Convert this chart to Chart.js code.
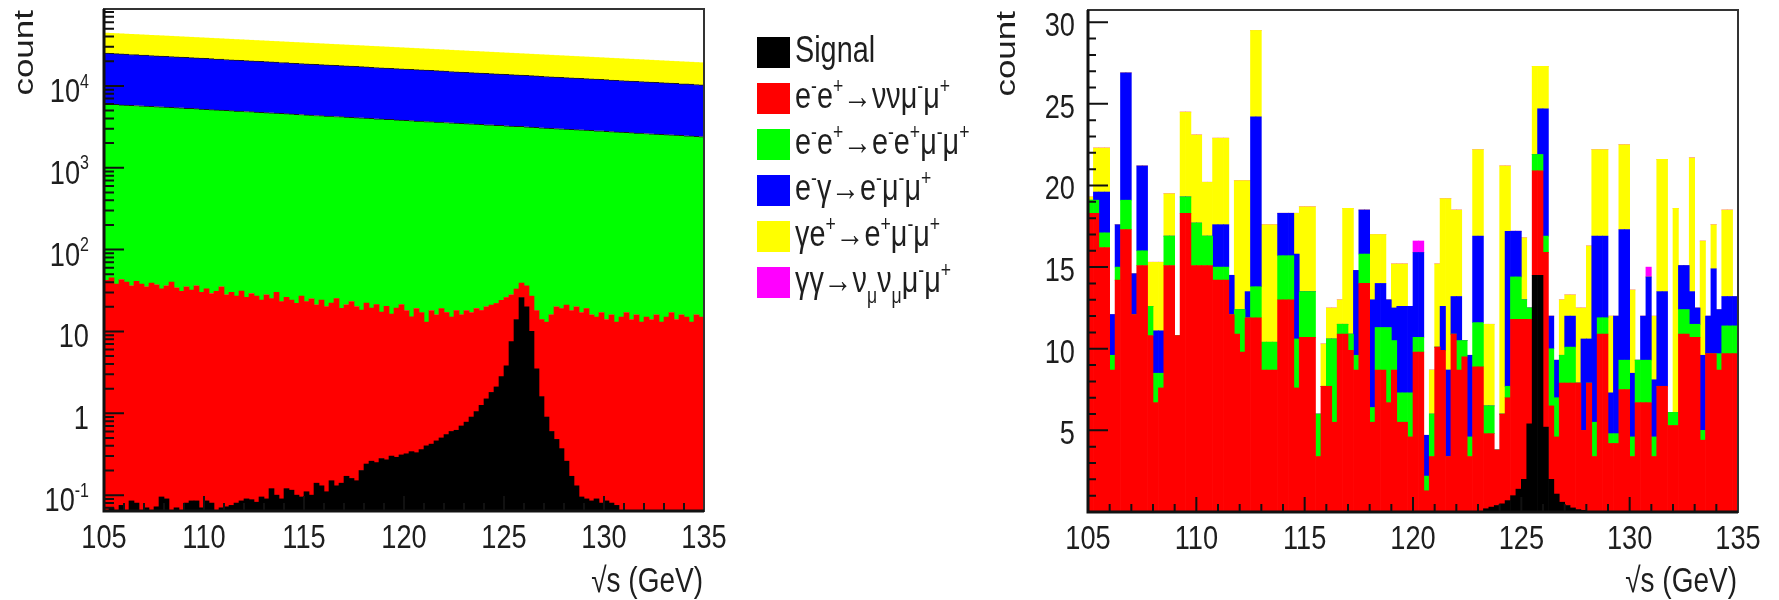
<!DOCTYPE html>
<html>
<head>
<meta charset="utf-8">
<script src="https://cdn.jsdelivr.net/npm/chart.js@4.4.1/dist/chart.umd.min.js"></script>
<style>
  body { margin: 0; background: #fff; }
  #wrap { position: relative; width: 1779px; height: 600px; }
  canvas { position: absolute; top: 0; }
</style>
</head>
<body>
<div id="wrap">
  <canvas id="left" width="1000" height="600" style="left:0"></canvas>
  <canvas id="right" width="799" height="600" style="left:980px"></canvas>
</div>
<script>
// binning: 0.25 GeV bins from 105 to 135
const binLow = 105, binWidth = 0.25, nBins = 120;
const binCenters = Array.from({length: nBins}, (_, i) => binLow + binWidth * (i + 0.5));

const xTickValues = [105, 110, 115, 120, 125, 130, 135];
const xTitle = '√s (GeV)';
const yTitle = 'count';
const logTickValues = [0.1, 1, 10, 100, 1000, 10000];
const logTickLabels = ['10^{-1}', '1', '10', '10^{2}', '10^{3}', '10^{4}'];
const linTickValues = [5, 10, 15, 20, 25, 30];

const legendNames = [
  'Signal',
  'e^{-}e^{+}→ννμ^{-}μ^{+}',
  'e^{-}e^{+}→e^{-}e^{+}μ^{-}μ^{+}',
  'e^{-}γ→e^{-}μ^{-}μ^{+}',
  'γe^{+}→e^{+}μ^{-}μ^{+}',
  'γγ→ν_{μ}ν_{μ}μ^{-}μ^{+}'
];
const seriesColors = ['#000000', '#ff0000', '#00ff00', '#0000ff', '#ffff00', '#ff00ff'];

// left panel (log scale)
const leftSignal = [
  0, 0.07, 0, 0.075, 0, 0.085, 0.08, 0, 0.07, 0,
  0.072, 0.095, 0.09, 0, 0.07, 0, 0.08, 0.085, 0.085, 0.07,
  0.085, 0.08, 0, 0.07, 0.072, 0.075, 0.08, 0.085, 0.09, 0.088,
  0.082, 0.095, 0.09, 0.12, 0.1, 0.09, 0.12, 0.115, 0.1, 0.095,
  0.11, 0.1, 0.14, 0.13, 0.11, 0.15, 0.13, 0.14, 0.17, 0.16,
  0.15, 0.2, 0.24, 0.26, 0.25, 0.28, 0.27, 0.3, 0.29, 0.31,
  0.32, 0.34, 0.33, 0.36, 0.4, 0.42, 0.46, 0.5, 0.55, 0.6,
  0.62, 0.7, 0.78, 0.9, 1.05, 1.25, 1.5, 1.8, 2.1, 2.8,
  3.8, 7.5, 14, 26, 20, 10, 3.5, 1.6, 0.9, 0.6,
  0.48, 0.37, 0.26, 0.17, 0.13, 0.095, 0.09, 0.085, 0.09, 0.08,
  0.085, 0.08, 0.075, 0, 0, 0, 0, 0, 0, 0,
  0, 0, 0, 0, 0, 0, 0, 0, 0, 0
];
const leftRed = [
  42, 45, 38, 43, 40, 36, 41, 38, 35, 39,
  37, 33, 36, 40, 34, 31, 35, 32, 36, 30,
  33, 29, 31, 35, 28, 30, 27, 31, 26, 29,
  27, 24, 28, 25, 30, 23, 26, 24, 22, 27,
  23, 25, 21, 24, 20, 22, 25, 19, 21, 23,
  20, 18, 22, 19, 21, 17, 20, 16, 19, 21,
  17.7, 14.7, 18.7, 16.6, 12.6, 17.6, 15.5, 18.5, 16.5, 14.4,
  17.4, 15.3, 17.2, 16.1, 18, 16.8, 18.5, 19.2, 19.9, 21.2,
  22.2, 20.5, 19, 13, 16, 17, 14.5, 12.4, 12.1, 15.4,
  19.5, 18.6, 20.7, 17.8, 19.9, 16.9, 18.9, 15.9, 14.9, 16.9,
  13.9, 15.9, 12.9, 15, 17, 14, 16, 13, 15, 14,
  16, 13, 15, 17, 14, 16, 15, 13, 16, 15
];
const leftGreen = [
  5940, 5890, 5905, 5815, 5800, 5745, 5720, 5665, 5650, 5585,
  5545, 5510, 5470, 5440, 5385, 5370, 5300, 5290, 5235, 5195,
  5130, 5100, 5055, 5020, 4985, 4950, 4910, 4880, 4835, 4810,
  4750, 4725, 4680, 4660, 4615, 4590, 4550, 4520, 4480, 4450,
  4400, 4375, 4330, 4305, 4270, 4245, 4200, 4190, 4135, 4115,
  4075, 4050, 4010, 3985, 3950, 3930, 3885, 3875, 3825, 3810,
  3770, 3750, 3710, 3695, 3655, 3640, 3600, 3585, 3550, 3530,
  3490, 3470, 3435, 3420, 3385, 3370, 3335, 3320, 3285, 3265,
  3230, 3210, 3180, 3165, 3135, 3115, 3090, 3070, 3045, 3025,
  2990, 2970, 2945, 2930, 2900, 2885, 2860, 2845, 2815, 2805,
  2770, 2750, 2725, 2710, 2685, 2670, 2645, 2630, 2605, 2590,
  2565, 2545, 2520, 2510, 2485, 2470, 2445, 2435, 2405, 2390
];
const leftBlue = [
  19150, 19020, 18840, 18745, 18560, 18420, 18330, 18140, 18050, 17880,
  17800, 17640, 17530, 17380, 17270, 17090, 16990, 16840, 16745, 16590,
  16520, 16380, 16250, 16140, 15990, 15880, 15760, 15620, 15530, 15390,
  15330, 15190, 15100, 14950, 14860, 14720, 14630, 14500, 14410, 14290,
  14230, 14110, 14010, 13880, 13800, 13670, 13590, 13460, 13390, 13270,
  13210, 13100, 13010, 12890, 12820, 12700, 12630, 12520, 12440, 12340,
  12270, 12170, 12090, 11980, 11910, 11810, 11740, 11630, 11570, 11460,
  11390, 11300, 11230, 11120, 11060, 10960, 10900, 10800, 10740, 10640,
  10580, 10490, 10430, 10330, 10270, 10180, 10130, 10030, 9980, 9890,
  9820, 9740, 9680, 9590, 9540, 9450, 9400, 9320, 9270, 9180,
  9120, 9040, 8990, 8910, 8860, 8780, 8730, 8660, 8610, 8530,
  8470, 8400, 8350, 8270, 8230, 8150, 8110, 8040, 7990, 7920
];
const leftYellow = [
  19040, 18930, 18790, 18700, 18560, 18460, 18330, 18240, 18090, 18000,
  17870, 17780, 17650, 17560, 17440, 17340, 17230, 17140, 17000, 16920,
  16790, 16700, 16590, 16490, 16380, 16290, 16170, 16090, 15970, 15880,
  15750, 15670, 15560, 15470, 15370, 15280, 15170, 15090, 14980, 14900,
  14770, 14700, 14590, 14510, 14410, 14330, 14230, 14150, 14050, 13980,
  13850, 13790, 13680, 13600, 13510, 13440, 13340, 13270, 13170, 13100,
  12990, 12930, 12830, 12750, 12670, 12600, 12500, 12440, 12350, 12270,
  12180, 12120, 12030, 11950, 11880, 11810, 11720, 11660, 11570, 11500,
  11410, 11360, 11270, 11200, 11130, 11070, 10980, 10930, 10840, 10780,
  10700, 10640, 10560, 10500, 10420, 10370, 10290, 10240, 10150, 10100,
  10030, 9970, 9900, 9840, 9760, 9720, 9640, 9590, 9510, 9470,
  9400, 9340, 9270, 9220, 9150, 9100, 9030, 8990, 8910, 8870
];

// right panel (linear scale)
const rightSignal = [
  0, 0, 0, 0, 0, 0, 0, 0, 0, 0,
  0, 0, 0, 0, 0, 0, 0, 0, 0, 0,
  0, 0, 0, 0, 0, 0, 0, 0, 0, 0,
  0, 0, 0, 0, 0, 0, 0, 0, 0, 0,
  0, 0, 0, 0, 0, 0, 0, 0, 0, 0,
  0, 0, 0, 0, 0, 0, 0, 0, 0, 0,
  0, 0, 0, 0, 0, 0, 0, 0, 0, 0,
  0, 0, 0, 0.2, 0.3, 0.4, 0.5, 0.7, 1.0, 1.4,
  2.0, 5.4, 14.5, 14.5, 5.2, 2.0, 1.1, 0.6, 0.4, 0.25,
  0.15, 0.1, 0, 0, 0, 0, 0, 0, 0, 0,
  0, 0, 0, 0, 0, 0, 0, 0, 0, 0,
  0, 0, 0, 0, 0, 0, 0, 0, 0, 0
];
const rightRed = [
  18.3, 18.3, 16.2, 16.2, 8.7, 14.2, 17.3, 17.3, 12.1, 15.1,
  15.1, 10.8, 6.7, 7.6, 15.1, 15.1, 10.8, 18.3, 18.3, 15.1,
  15.1, 15.1, 15.1, 14.2, 14.2, 14.2, 12.1, 10.9, 9.8, 11.9,
  11.9, 11.9, 8.7, 8.7, 8.7, 13.0, 13.0, 13.0, 7.6, 10.7,
  10.7, 10.7, 3.4, 7.7, 7.7, 5.5, 10.9, 10.9, 9.9, 8.7,
  14.0, 14.0, 5.5, 8.7, 8.7, 6.7, 8.7, 5.5, 5.5, 4.6,
  9.8, 9.8, 1.3, 3.4, 10.1, 9.9, 3.4, 10.9, 8.7, 9.5,
  3.4, 8.9, 8.9, 4.6, 4.5, 3.4, 5.5, 6.3, 10.8, 10.4,
  9.8, 6.4, 6.4, 6.4, 10.7, 4.5, 3.5, 7.3, 7.5, 7.65,
  7.75, 4.9, 7.9, 3.4, 10.9, 10.9, 4.2, 4.2, 7.5, 7.5,
  3.4, 6.7, 6.7, 6.7, 3.4, 7.7, 7.7, 5.3, 5.3, 10.9,
  10.9, 10.7, 10.7, 4.4, 9.7, 9.7, 8.7, 9.7, 9.7, 9.7
];
const rightGreen = [
  0.8, 0.8, 0.9, 0.9, 0.9, 0.8, 1.8, 1.8, 0, 0.9,
  0.9, 1.8, 1.8, 0.9, 1.8, 1.8, 0, 1.0, 1.0, 2.6,
  2.6, 1.8, 1.8, 0.8, 0.8, 0.8, 0, 1.5, 2.6, 0,
  1.9, 1.9, 1.7, 1.7, 1.7, 2.7, 2.7, 2.7, 3.0, 2.8,
  2.8, 2.8, 2.6, 0, 2.9, 5.1, 0.6, 0.6, 1.0, 0.9,
  1.8, 1.8, 0.9, 2.6, 2.6, 4.6, 1.8, 1.8, 1.8, 2.7,
  0.9, 0.9, 0.9, 2.6, 0, 0, 0, 0, 1.8, 1.0,
  1.2, 2.7, 2.7, 1.7, 1.7, 0, 0, 0.7, 2.6, 2.6,
  1.2, 0.7, 1.0, 1.0, 1.0, 3.5, 2.4, 1.7, 2.2, 2.2,
  0, 0, 0, 2.1, 1.0, 1.0, 0.6, 0.6, 1.8, 1.8,
  1.2, 2.6, 2.6, 2.6, 1.2, 0, 0, 0.8, 0.8, 1.5,
  1.5, 0.8, 0.8, 0.6, 0, 0, 1.0, 1.7, 1.7, 1.7
];
const rightBlue = [
  0, 0.5, 2.5, 2.5, 2.5, 2.6, 7.8, 7.8, 2.5, 5.2,
  5.2, 0, 2.6, 2.6, 0, 0, 0, 0, 0, 0,
  0, 0, 0, 2.6, 2.6, 2.6, 2.4, 0, 0, 1.6,
  10.4, 10.4, 0, 0, 0, 2.6, 2.6, 2.6, 5.2, 0,
  0, 0, 0, 0, 0, 0, 0, 0, 0, 5.2,
  2.7, 2.7, 6.6, 2.7, 2.7, 1.7, 2.0, 5.3, 5.3, 5.3,
  5.2, 5.2, 2.5, 0, 0, 2.7, 5.3, 2.3, 2.7, 0,
  5.0, 5.3, 5.3, 0, 0, 0, 0, 9.5, 2.8, 2.8,
  0, 0, 0, 2.8, 7.8, 2.0, 2.3, 0, 1.9, 1.9,
  0, 5.6, 2.7, 11.4, 5.0, 5.0, 2.5, 7.2, 8.0, 8.0,
  3.9, 0, 2.7, 5.1, 3.5, 5.8, 5.8, 0, 0, 2.7,
  2.7, 2.0, 1.0, 4.6, 2.3, 5.2, 2.7, 1.8, 1.8, 1.8
];
const rightYellow = [
  0.2, 2.7, 2.7, 2.7, 0, 0, 0, 0, 0, 0,
  0, 2.7, 4.2, 4.2, 2.6, 2.6, 0, 5.2, 5.2, 5.4,
  5.4, 3.3, 3.3, 5.3, 5.3, 5.3, 0, 7.9, 7.9, 6.8,
  5.3, 5.3, 7.2, 7.2, 7.2, 0, 0, 0, 2.5, 5.2,
  5.2, 5.2, 0, 2.6, 1.9, 1.9, 1.5, 7.1, 7.7, 0,
  0, 0, 4.0, 3.0, 3.0, 0, 2.7, 2.6, 2.6, 0,
  0, 0, 0, 2.7, 5.1, 6.6, 10.5, 5.3, 5.3, 0,
  0, 5.3, 5.3, 5.0, 5.0, 0, 15.2, 4.0, 0, 0,
  3.8, 0, 5.4, 2.6, 2.6, 0, 0, 3.4, 1.3, 1.3,
  4.6, 1.9, 5.7, 5.3, 5.3, 5.3, 4.7, 0, 5.2, 5.2,
  5.1, 0, 0, 0, 3.9, 8.1, 8.1, 0, 12.5, 0,
  0, 8.2, 0, 7.0, 0, 2.7, 0, 5.3, 5.3, 0
];
const rightMagenta = [
  0, 0, 0, 0, 0, 0, 0, 0, 0, 0,
  0, 0, 0, 0, 0, 0, 0, 0, 0, 0,
  0, 0, 0, 0, 0, 0, 0, 0, 0, 0,
  0, 0, 0, 0, 0, 0, 0, 0, 0, 0,
  0, 0, 0, 0, 0, 0, 0, 0, 0, 0,
  0, 0, 0, 0, 0, 0, 0, 0, 0, 0,
  0.7, 0.7, 0, 0, 0, 0, 0, 0, 0, 0,
  0, 0, 0, 0, 0, 0, 0, 0, 0, 0,
  0, 0, 0, 0, 0, 0, 0, 0, 0, 0,
  0, 0, 0, 0, 0, 0, 0, 0, 0, 0,
  0, 0, 0, 0.6, 0, 0, 0, 0, 0, 0,
  0, 0, 0, 0, 0, 0, 0, 0, 0, 0
];

const FONT = '"Liberation Sans", Arial, Helvetica, sans-serif';
const TEXT = '#1e1e1e';
const SX = 0.8;   // labels are set in a condensed Helvetica look

// tiny TLatex-like renderer: ^{..} superscript, _{..} subscript
function richParts(str) {
  const parts = [];
  const re = /([\^_])\{([^}]*)\}/g;
  let last = 0, m;
  while ((m = re.exec(str))) {
    if (m.index > last) parts.push({t: str.slice(last, m.index), k: ''});
    parts.push({t: m[2], k: m[1]});
    last = re.lastIndex;
  }
  if (last < str.length) parts.push({t: str.slice(last), k: ''});
  return parts;
}
function drawRich(ctx, str, x, y, size, align) {
  const parts = richParts(str);
  const small = Math.round(size * 0.6);
  const fontFor = p => (p.k ? small : size) + 'px ' + FONT;
  let w = 0;
  parts.forEach(p => { ctx.font = fontFor(p); p.w = ctx.measureText(p.t).width; w += p.w; });
  let cx = align === 'right' ? -w : align === 'center' ? -w / 2 : 0;
  ctx.save();
  ctx.translate(x, y);
  ctx.scale(SX, 1);
  ctx.textAlign = 'left';
  ctx.textBaseline = 'alphabetic';
  parts.forEach(p => {
    ctx.font = fontFor(p);
    const dy = p.k === '^' ? -size * 0.42 : p.k === '_' ? size * 0.3 : 0;
    ctx.fillText(p.t, cx, dy);
    cx += p.w;
  });
  ctx.restore();
}

// frame box, inward ticks and all axis text
const rootFrame = {
  id: 'rootFrame',
  afterDatasetsDraw(chart, args, o) {
    const {ctx, chartArea: a} = chart;
    const x = chart.scales.x, y = chart.scales.y;
    ctx.save();
    ctx.strokeStyle = '#111';
    ctx.lineWidth = 2;
    ctx.beginPath();
    for (let v = x.min; v <= x.max; v += 1) {
      const px = x.getPixelForValue(v);
      const len = (v - x.min) % 5 === 0 ? 15 : 8;
      ctx.moveTo(px, a.bottom);
      ctx.lineTo(px, a.bottom - len);
    }
    if (y.type === 'logarithmic') {
      const d0 = Math.floor(Math.log10(y.min)), d1 = Math.ceil(Math.log10(y.max));
      for (let d = d0; d <= d1; d++) {
        for (let m = 1; m < 10; m++) {
          const v = m * Math.pow(10, d);
          if (v < y.min || v > y.max) continue;
          const py = y.getPixelForValue(v);
          ctx.moveTo(a.left, py);
          ctx.lineTo(a.left + (m === 1 ? 20 : 10), py);
        }
      }
    } else {
      for (let v = 0; v <= y.max; v += 1) {
        const py = y.getPixelForValue(v);
        ctx.moveTo(a.left, py);
        ctx.lineTo(a.left + (v % 5 === 0 ? 20 : 8), py);
      }
    }
    ctx.stroke();

    ctx.lineWidth = 2;
    ctx.strokeStyle = '#333';
    ctx.strokeRect(a.left, a.top, a.right - a.left, a.bottom - a.top);
    ctx.lineWidth = 3;
    ctx.strokeStyle = '#111';
    ctx.beginPath();
    ctx.moveTo(a.left, a.top);
    ctx.lineTo(a.left, a.bottom);
    ctx.lineTo(a.right, a.bottom);
    ctx.stroke();

    ctx.fillStyle = TEXT;
    // x tick labels and title
    xTickValues.forEach(v => drawRich(ctx, String(v), x.getPixelForValue(v), a.bottom + 37, 34, 'center'));
    drawRich(ctx, xTitle, a.right - 1, 592, 35, 'right');
    // y tick labels
    if (y.type === 'logarithmic') {
      logTickValues.forEach((v, i) => {
        drawRich(ctx, logTickLabels[i], a.left - 15, y.getPixelForValue(v) + 16, 34, 'right');
      });
    } else {
      linTickValues.forEach(v => {
        drawRich(ctx, String(v), a.left - 13, y.getPixelForValue(v) + 14, 34, 'right');
      });
    }
    // rotated y title, reading upwards, ending at the top of the frame
    ctx.save();
    ctx.translate(o.titleX, a.top + 1);
    ctx.scale(SX, 1);
    ctx.rotate(-Math.PI / 2);
    ctx.font = '35px ' + FONT;
    ctx.textAlign = 'right';
    ctx.textBaseline = 'alphabetic';
    ctx.fillText(yTitle, 0, 0);
    ctx.restore();
    ctx.restore();
  }
};

const stackLegend = {
  id: 'stackLegend',
  afterDraw(chart, args, o) {
    const ctx = chart.ctx;
    ctx.save();
    legendNames.forEach((name, i) => {
      const top = o.top + i * o.step;
      ctx.fillStyle = seriesColors[i];
      ctx.fillRect(o.left, top, 33, 31);
      ctx.fillStyle = TEXT;
      drawRich(ctx, name, o.left + 38, top + 25, 36, 'left');
    });
    ctx.restore();
  }
};

function barSet(label, data, color, edge) {
  return {
    label, data,
    backgroundColor: color,
    borderColor: '#1a1a1a',
    borderWidth: edge ? {top: 1, left: 0, right: 0, bottom: 0} : 0,
    borderSkipped: false,
    barPercentage: 1,
    categoryPercentage: 1
  };
}

const xAxis = (height) => ({
  type: 'linear',
  min: 105,
  max: 135,
  offset: false,
  stacked: true,
  grid: {display: false},
  border: {display: false},
  afterBuildTicks: s => { s.ticks = xTickValues.map(v => ({value: v})); },
  afterFit: s => { s.height = height; },
  ticks: {display: false}
});

new Chart(document.getElementById('left'), {
  type: 'bar',
  data: {
    labels: binCenters,
    datasets: [
      barSet('Signal', leftSignal, seriesColors[0], false),
      barSet(legendNames[1], leftRed, seriesColors[1], false),
      barSet(legendNames[2], leftGreen, seriesColors[2], true),
      barSet(legendNames[3], leftBlue, seriesColors[3], true),
      barSet(legendNames[4], leftYellow, seriesColors[4], false)
    ]
  },
  options: {
    responsive: false,
    animation: false,
    devicePixelRatio: 1,
    events: [],
    layout: {padding: {left: 0, top: 9, right: 296, bottom: 0}},
    plugins: {
      legend: {display: false},
      tooltip: {enabled: false},
      rootFrame: {titleX: 33},
      stackLegend: {left: 757, top: 37, step: 46}
    },
    scales: {
      x: xAxis(89),
      y: {
        type: 'logarithmic',
        min: 0.064,
        max: 87000,
        stacked: true,
        grid: {display: false},
        border: {display: false},
        afterBuildTicks: s => { s.ticks = logTickValues.map(v => ({value: v})); },
        afterFit: s => { s.width = 104; },
        ticks: {display: false}
      }
    }
  },
  plugins: [rootFrame, stackLegend]
});

new Chart(document.getElementById('right'), {
  type: 'bar',
  data: {
    labels: binCenters,
    datasets: [
      barSet('Signal', rightSignal, seriesColors[0], false),
      barSet(legendNames[1], rightRed, seriesColors[1], false),
      barSet(legendNames[2], rightGreen, seriesColors[2], false),
      barSet(legendNames[3], rightBlue, seriesColors[3], false),
      barSet(legendNames[4], rightYellow, seriesColors[4], false),
      barSet(legendNames[5], rightMagenta, seriesColors[5], false)
    ]
  },
  options: {
    responsive: false,
    animation: false,
    devicePixelRatio: 1,
    events: [],
    layout: {padding: {left: 0, top: 10, right: 41, bottom: 0}},
    plugins: {
      legend: {display: false},
      tooltip: {enabled: false},
      rootFrame: {titleX: 35}
    },
    scales: {
      x: xAxis(88),
      y: {
        type: 'linear',
        min: 0,
        max: 30.75,
        stacked: true,
        grid: {display: false},
        border: {display: false},
        afterBuildTicks: s => { s.ticks = linTickValues.map(v => ({value: v})); },
        afterFit: s => { s.width = 108; },
        ticks: {display: false}
      }
    }
  },
  plugins: [rootFrame]
});
</script>
</body>
</html>
